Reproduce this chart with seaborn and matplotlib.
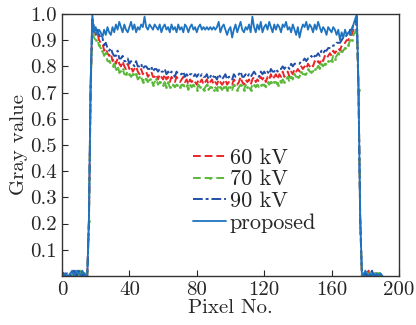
import pandas as pd
import numpy as np
import matplotlib
matplotlib.use('Agg')
import matplotlib.pyplot as plt
import seaborn as sns

sns.set_style('ticks')
plt.rcParams['font.family'] = ['cmr10', 'DejaVu Serif']
plt.rcParams['axes.formatter.use_mathtext'] = True

# pixel index along the profile
pixel = list(range(191))

kv60 = [0.00,0.01,0.00,0.00,0.01,0.00,0.01,0.02,0.00,0.01,
        0.02,0.01,0.00,0.01,0.00,0.00,0.21,0.71,0.96,0.94,
        0.92,0.93,0.90,0.89,0.89,0.86,0.87,0.85,0.84,0.85,
        0.82,0.83,0.81,0.83,0.81,0.80,0.82,0.80,0.79,0.81,
        0.79,0.80,0.78,0.79,0.80,0.78,0.77,0.79,0.77,0.78,
        0.78,0.76,0.77,0.78,0.76,0.76,0.77,0.75,0.77,0.76,
        0.75,0.77,0.75,0.76,0.74,0.76,0.75,0.74,0.76,0.75,
        0.74,0.75,0.76,0.74,0.75,0.73,0.75,0.74,0.75,0.74,
        0.73,0.75,0.74,0.75,0.73,0.74,0.75,0.73,0.74,0.75,
        0.73,0.74,0.73,0.75,0.74,0.73,0.74,0.75,0.73,0.74,
        0.74,0.73,0.75,0.74,0.73,0.74,0.76,0.74,0.73,0.75,
        0.74,0.75,0.73,0.75,0.76,0.74,0.75,0.74,0.76,0.75,
        0.76,0.74,0.76,0.75,0.77,0.75,0.76,0.77,0.75,0.77,
        0.76,0.78,0.76,0.77,0.78,0.76,0.78,0.77,0.79,0.78,
        0.79,0.78,0.80,0.79,0.80,0.79,0.81,0.80,0.81,0.80,
        0.82,0.81,0.82,0.81,0.83,0.82,0.84,0.83,0.84,0.85,
        0.84,0.86,0.85,0.86,0.87,0.86,0.88,0.88,0.89,0.90,
        0.90,0.92,0.92,0.94,0.95,0.97,0.71,0.22,0.00,0.01,
        0.00,0.01,0.02,0.00,0.01,0.00,0.00,0.01,0.00,0.00,
        0.00]

kv70 = [0.01,0.00,0.00,0.01,0.00,0.01,0.00,0.01,0.02,0.00,
        0.01,0.02,0.00,0.01,0.01,0.00,0.21,0.71,0.95,0.91,
        0.90,0.90,0.88,0.87,0.86,0.84,0.85,0.82,0.82,0.81,
        0.80,0.81,0.79,0.80,0.78,0.78,0.79,0.77,0.77,0.78,
        0.77,0.76,0.77,0.76,0.77,0.75,0.76,0.76,0.74,0.76,
        0.75,0.74,0.75,0.75,0.73,0.74,0.75,0.73,0.74,0.74,
        0.73,0.74,0.72,0.74,0.72,0.73,0.73,0.72,0.73,0.73,
        0.72,0.73,0.73,0.72,0.73,0.71,0.73,0.72,0.73,0.72,
        0.71,0.73,0.72,0.72,0.71,0.72,0.73,0.71,0.72,0.72,
        0.71,0.72,0.71,0.73,0.72,0.71,0.72,0.73,0.71,0.72,
        0.72,0.71,0.73,0.72,0.71,0.72,0.73,0.72,0.71,0.73,
        0.72,0.72,0.71,0.73,0.73,0.72,0.73,0.72,0.73,0.73,
        0.73,0.72,0.74,0.73,0.74,0.73,0.74,0.74,0.73,0.75,
        0.74,0.75,0.74,0.75,0.76,0.74,0.76,0.75,0.77,0.76,
        0.76,0.76,0.78,0.77,0.77,0.77,0.79,0.78,0.78,0.78,
        0.79,0.79,0.80,0.79,0.81,0.80,0.81,0.81,0.82,0.82,
        0.82,0.84,0.83,0.84,0.85,0.84,0.86,0.86,0.87,0.88,
        0.88,0.90,0.90,0.92,0.93,0.95,0.71,0.23,0.00,0.01,
        0.00,0.01,0.00,0.02,0.01,0.00,0.01,0.00,0.01,0.00,
        0.00]

kv90 = [0.00,0.01,0.00,0.01,0.00,0.00,0.01,0.02,0.01,0.00,
        0.02,0.01,0.00,0.01,0.00,0.00,0.21,0.72,0.98,0.95,
        0.94,0.94,0.92,0.91,0.91,0.88,0.89,0.87,0.86,0.87,
        0.85,0.84,0.84,0.86,0.83,0.83,0.84,0.82,0.82,0.83,
        0.81,0.82,0.81,0.80,0.82,0.80,0.80,0.81,0.79,0.80,
        0.80,0.79,0.79,0.80,0.78,0.79,0.79,0.78,0.79,0.78,
        0.78,0.79,0.77,0.78,0.77,0.78,0.77,0.76,0.78,0.77,
        0.77,0.77,0.78,0.76,0.77,0.76,0.77,0.77,0.76,0.77,
        0.76,0.77,0.76,0.77,0.76,0.76,0.77,0.75,0.76,0.77,
        0.76,0.76,0.75,0.77,0.76,0.75,0.76,0.77,0.75,0.76,
        0.76,0.75,0.77,0.76,0.76,0.77,0.78,0.76,0.76,0.77,
        0.76,0.77,0.76,0.77,0.78,0.77,0.77,0.76,0.78,0.77,
        0.78,0.77,0.78,0.77,0.79,0.78,0.78,0.79,0.78,0.79,
        0.79,0.80,0.79,0.80,0.80,0.79,0.81,0.80,0.81,0.81,
        0.81,0.81,0.82,0.82,0.83,0.82,0.83,0.83,0.84,0.83,
        0.84,0.84,0.85,0.84,0.86,0.85,0.86,0.86,0.87,0.87,
        0.87,0.88,0.88,0.89,0.89,0.89,0.90,0.91,0.91,0.92,
        0.92,0.94,0.94,0.96,0.97,0.99,0.71,0.22,0.01,0.00,
        0.01,0.00,0.01,0.00,0.02,0.00,0.01,0.00,0.00,0.01,
        0.00]

proposed = [0.01,0.00,0.01,0.00,0.00,0.01,0.02,0.00,0.01,0.02,
            0.01,0.00,0.02,0.01,0.00,0.00,0.22,0.74,1.00,0.93,
            0.95,0.92,0.94,0.93,0.91,0.94,0.92,0.95,0.93,0.92,
            0.95,0.93,0.96,0.94,0.97,0.95,0.93,0.96,0.94,0.93,
            0.95,0.97,0.94,0.96,0.93,0.95,0.94,0.96,0.95,0.99,
            0.95,0.94,0.96,0.95,0.94,0.96,0.95,0.94,0.96,0.93,
            0.95,0.96,0.94,0.95,0.93,0.96,0.94,0.95,0.93,0.96,
            0.94,0.95,0.93,0.96,0.95,0.93,0.95,0.96,0.94,0.95,
            0.93,0.95,0.96,0.94,0.95,0.94,0.95,0.94,0.95,0.94,
            0.95,0.94,0.95,0.97,0.93,0.95,0.96,0.94,0.92,0.94,
            0.95,0.91,0.94,0.96,0.93,0.95,0.97,0.94,0.93,0.95,
            0.94,0.96,0.93,0.99,0.95,0.93,0.96,0.94,0.97,0.93,
            0.95,0.96,0.94,0.97,0.95,0.93,0.96,0.94,0.96,0.95,
            0.93,0.96,0.95,0.97,0.94,0.95,0.93,0.96,0.94,0.92,
            0.95,0.91,0.94,0.96,0.95,0.97,0.94,0.96,0.95,0.93,
            0.96,0.94,0.97,0.95,0.93,0.95,0.94,0.92,0.95,0.94,
            0.93,0.95,0.94,0.92,0.94,0.90,0.93,0.91,0.94,0.92,
            0.93,0.92,0.94,0.96,0.98,1.00,0.72,0.22,0.01,0.00,
            0.02,0.01,0.00,0.01,0.00,0.01,0.00,0.01,0.00,0.01,
            0.00]

x_ticks = [0, 40, 80, 120, 160, 200]
y_ticks = [0.1, 0.2, 0.3, 0.4, 0.5, 0.6, 0.7, 0.8, 0.9, 1.0]

f, ax = plt.subplots(figsize=(4.16, 3.25), dpi=100)
f.subplots_adjust(left=0.149, right=0.959, bottom=0.151, top=0.957)

sns.lineplot(x=pixel, y=kv60, ax=ax, color='#e8262a', lw=1.4, label='60 kV',
             linestyle=(0, (4, 2)))
sns.lineplot(x=pixel, y=kv70, ax=ax, color='#5cb83a', lw=1.4, label='70 kV',
             linestyle=(0, (4, 2)), marker='.', markersize=4, markevery=2,
             markeredgewidth=0)
sns.lineplot(x=pixel, y=kv90, ax=ax, color='#2250a8', lw=1.4, label='90 kV',
             linestyle=(0, (5, 1.5, 1.5, 1.5)))
sns.lineplot(x=pixel, y=proposed, ax=ax, color='#1f74c2', lw=1.3, label='proposed')

ax.set_xlim(0, 200)
ax.set_ylim(0, 1.0)
ax.set_xticks(x_ticks)
ax.set_xticklabels([str(t) for t in x_ticks])
ax.set_yticks(y_ticks)
ax.set_yticklabels(['%.1f' % t for t in y_ticks])
ax.tick_params(direction='in', labelsize=15, length=4, width=0.8)
ax.set_xlabel('Pixel No.', fontsize=15, labelpad=0)
ax.set_ylabel('Gray value', fontsize=15, labelpad=2)
for s in ax.spines.values():
    s.set_linewidth(1.0)
    s.set_color('#333333')

ax.legend(loc='upper left', bbox_to_anchor=(0.362, 0.522), frameon=False,
          fontsize=16, handlelength=1.5, handletextpad=0.15, labelspacing=0.1,
          borderaxespad=0)

plt.savefig('out.png', dpi=100)
